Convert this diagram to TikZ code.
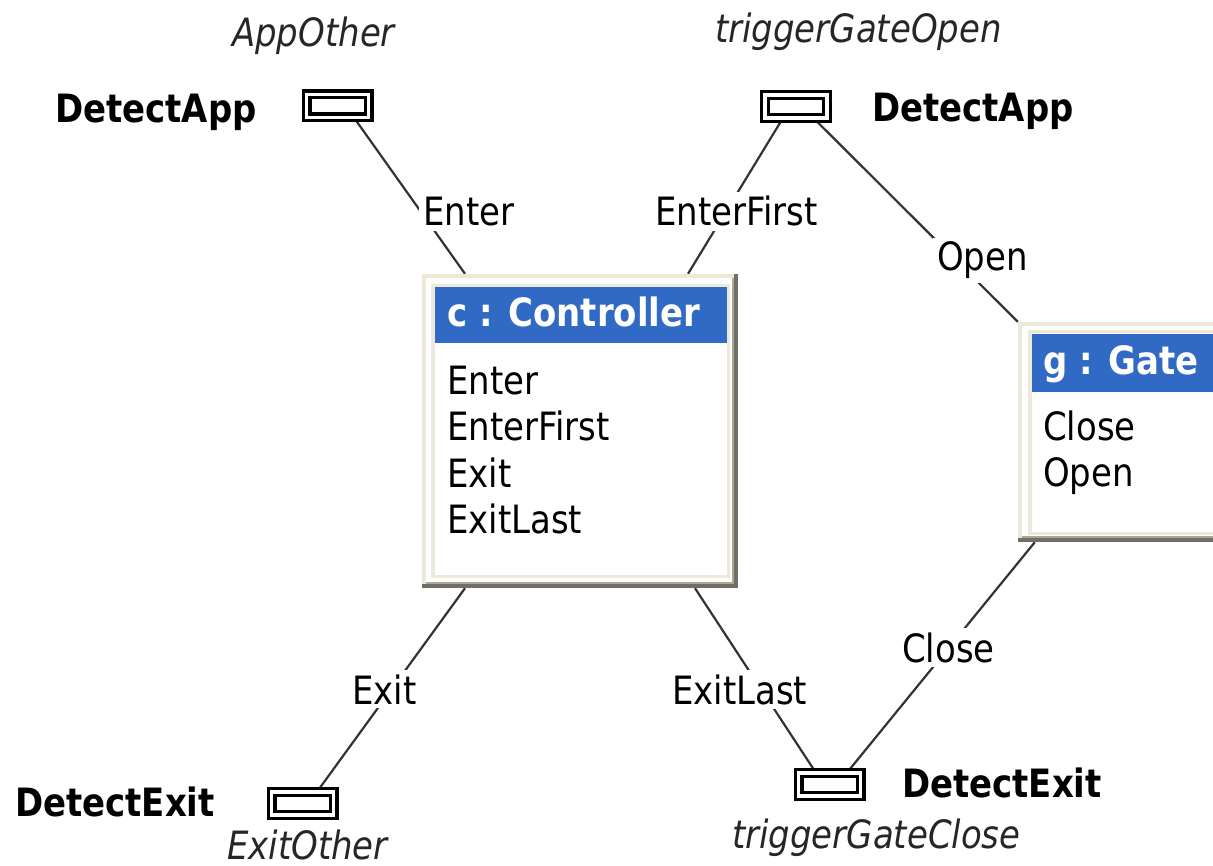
\documentclass[tikz,border=0pt]{standalone}
\usepackage{fontspec}
\setmainfont{DejaVu Sans}[FakeStretch=0.87]
\usetikzlibrary{backgrounds}
\definecolor{xpbeige}{HTML}{ECE9D8}
\definecolor{xpgray}{HTML}{ACA899}
\definecolor{xpdark}{HTML}{716F64}
\definecolor{xpblue}{HTML}{316AC5}
\definecolor{linec}{HTML}{333333}
\tikzset{
  txt/.style={font=\fontsize{39}{46}\selectfont, inner sep=0pt, anchor=base west},
  boldtxt/.style={txt, font=\fontsize{39}{46}\selectfont\bfseries},
  role/.style={txt, font=\fontsize{39}{46}\selectfont\itshape, text=black!85},
  lbl/.style={txt, fill=white, inner sep=4pt},
  hdr/.style={boldtxt, text=white},
  port/.style={draw=black, double=white, line width=3.2pt, double distance=3.6pt, fill=white,
    minimum width=62pt, minimum height=23pt, inner sep=0pt},
  conn/.style={draw=linec, line width=2.2pt},
  boxanchor/.style={inner sep=0pt, draw=none},
  frameinner/.style={draw=xpbeige, line width=3.5pt}
}
\begin{document}
\begin{tikzpicture}[x=1pt, y=-1pt]
\useasboundingbox (0,0) rectangle (1213,866);
\clip (0,0) rectangle (1213,866);

% Controller box
\fill[xpdark] (422,274) rectangle (738,588);
\fill[xpbeige] (422,274) rectangle (734,584);
\fill[xpgray] (426,278) rectangle (734,584);
\fill[white] (426,278) rectangle (732,582);
\draw[frameinner] (433,285.5) rectangle (728.5,576.5);
\fill[xpblue] (435,287) rectangle (727,343);
\node[boxanchor, minimum width=316pt, minimum height=314pt] (ctrl) at (580,431) {};
\node[hdr] (ctitle) at (447,327) {c : Controller};
\node[txt] (c1) at (447,395) {Enter};
\node[txt] (c2) at (447,441) {EnterFirst};
\node[txt] (c3) at (447,487) {Exit};
\node[txt] (c4) at (447,533) {ExitLast};

% Gate box
\fill[xpdark] (1018,322) rectangle (1260,542);
\fill[xpbeige] (1018,322) rectangle (1256,538);
\fill[xpgray] (1022,326) rectangle (1256,538);
\fill[white] (1022,326) rectangle (1254,536);
\draw[frameinner] (1030,331.5) rectangle (1250,533.5);
\fill[xpblue] (1032,334) rectangle (1248,392);
\node[boxanchor, minimum width=242pt, minimum height=220pt] (gate) at (1139,432) {};
\node[hdr] (gtitle) at (1043,375) {g : Gate};
\node[txt] (g1) at (1043,441) {Close};
\node[txt] (g2) at (1043,486) {Open};

% Ports
\node[port] (tl) at (337.5,106) {};
\node[port] (tr) at (796,106.5) {};
\node[port] (bl) at (302.5,803.5) {};
\node[port] (br) at (829.5,784.5) {};

% Port texts
\node[boldtxt] (dtl) at (55,123) {DetectApp};
\node[role] (rtl) at (232,47) {AppOther};
\node[role] (rtr) at (715,43) {triggerGateOpen};
\node[boldtxt] (dtr) at (872,122) {DetectApp};
\node[boldtxt] (dbl) at (15,816) {DetectExit};
\node[role] (rbl) at (227,859) {ExitOther};
\node[boldtxt] (dbr) at (902,797) {DetectExit};
\node[role] (rbr) at (732,848) {triggerGateClose};

% Connectors
\begin{pgfonlayer}{background}
\draw[conn] ([xshift=17.5pt]tl.south) -- ([xshift=-115pt]ctrl.north);
\draw[conn] ([xshift=-14pt]tr.south) -- ([xshift=108pt]ctrl.north);
\draw[conn] ([xshift=19pt]tr.south) -- (gate.north west);
\draw[conn] ([xshift=-115pt]ctrl.south) -- ([xshift=15.5pt]bl.north);
\draw[conn] ([xshift=115pt]ctrl.south) -- ([xshift=-14.5pt]br.north);
\draw[conn] ([xshift=17pt]gate.south west) -- ([xshift=18.5pt]br.north);
\end{pgfonlayer}

% Connector labels
\node[lbl] (lEnter) at (419,226) {Enter};
\node[lbl] (lEnterFirst) at (651,226) {EnterFirst};
\node[lbl] (lOpen) at (933,271) {Open};
\node[lbl] (lExit) at (348,704) {Exit};
\node[lbl] (lExitLast) at (668,704) {ExitLast};
\node[lbl] (lClose) at (898,662) {Close};
\end{tikzpicture}
\end{document}
